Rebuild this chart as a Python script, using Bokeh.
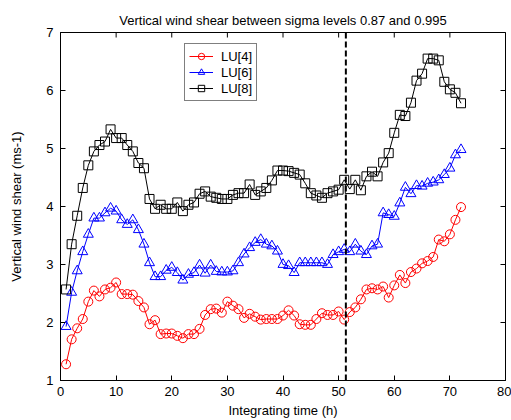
import math
from bokeh.plotting import figure
from bokeh.models import Range1d, Span, Legend, LegendItem, FixedTicker
from bokeh.embed import file_html
from bokeh.resources import INLINE

hours = list(range(1, 73))
lu4 = [1.28, 1.71, 1.90, 2.06, 2.36, 2.55, 2.45, 2.57, 2.60, 2.69,
       2.49, 2.49, 2.48, 2.37, 2.26, 1.97, 2.04, 1.80, 1.81, 1.81,
       1.77, 1.73, 1.80, 1.80, 1.89, 2.13, 2.23, 2.24, 2.17, 2.36,
       2.29, 2.23, 2.08, 2.15, 2.10, 2.05, 2.06, 2.06, 2.06, 2.12,
       2.21, 2.12, 1.97, 1.96, 1.96, 2.06, 2.16, 2.13, 2.13, 2.19,
       2.05, 2.18, 2.26, 2.40, 2.57, 2.59, 2.57, 2.62, 2.43, 2.64,
       2.82, 2.68, 2.87, 2.93, 3.02, 3.06, 3.13, 3.43, 3.40, 3.52,
       3.77, 3.99]
lu6 = [1.93, 2.52, 2.89, 3.22, 3.52, 3.80, 3.80, 3.89, 3.97, 3.92,
       3.77, 3.69, 3.77, 3.60, 3.35, 3.03, 2.79, 2.79, 2.90, 2.95,
       2.86, 2.73, 2.83, 2.86, 2.99, 2.85, 2.99, 2.88, 2.87, 2.87,
       2.89, 3.03, 3.18, 3.29, 3.38, 3.43, 3.35, 3.32, 3.23, 3.00,
       2.98, 2.86, 3.03, 3.03, 3.03, 3.03, 3.03, 3.00, 3.17, 3.22,
       3.26, 3.22, 3.35, 3.23, 3.17, 3.32, 3.35, 3.89, 3.86, 3.83,
       4.06, 4.33, 4.22, 4.36, 4.35, 4.40, 4.42, 4.46, 4.55, 4.66,
       4.89, 4.98]
lu8 = [2.57, 3.35, 3.84, 4.32, 4.71, 4.95, 5.06, 5.12, 5.33, 5.18,
       5.18, 5.06, 4.95, 4.75, 4.66, 4.13, 3.96, 4.03, 3.96, 3.96,
       4.07, 3.92, 4.03, 4.07, 4.22, 4.26, 4.17, 4.15, 4.13, 4.13,
       4.20, 4.23, 4.23, 4.38, 4.20, 4.26, 4.32, 4.45, 4.62, 4.62,
       4.61, 4.58, 4.55, 4.40, 4.23, 4.19, 4.15, 4.23, 4.26, 4.29,
       4.46, 4.30, 4.46, 4.28, 4.52, 4.60, 4.52, 4.76, 4.92, 5.27,
       5.58, 5.56, 5.79, 6.17, 6.29, 6.55, 6.55, 6.52, 6.15, 6.02,
       5.96, 5.78]
series_names = ["LU[4]", "LU[6]", "LU[8]"]
event_time = 51.3
x_ticks = [0, 10, 20, 30, 40, 50, 60, 70, 80]
y_ticks = [1, 2, 3, 4, 5, 6, 7]

FONT = "Liberation Sans"
FS = "13px"

p = figure(width=511, height=420, output_backend="svg", toolbar_location=None,
           x_range=Range1d(x_ticks[0], x_ticks[-1]),
           y_range=Range1d(y_ticks[0], y_ticks[-1]),
           min_border_left=60, min_border_right=6, min_border_top=32,
           min_border_bottom=38)
p.background_fill_color = "white"
p.border_fill_color = "white"
p.outline_line_color = "black"
p.outline_line_width = 1
p.xgrid.visible = False
p.ygrid.visible = False

p.title.text = "Vertical wind shear between sigma levels 0.87 and 0.995"
p.title.align = "center"
p.title.text_font = FONT
p.title.text_font_size = FS
p.title.text_font_style = "normal"
p.title.text_color = "black"
p.title.offset = 0
p.title.standoff = 10


def style_axis(ax):
    ax.major_tick_in = 5
    ax.major_tick_out = 0
    ax.minor_tick_line_color = None
    ax.axis_line_color = "black"
    ax.major_tick_line_color = "black"
    ax.major_label_text_font = FONT
    ax.major_label_text_font_size = FS
    ax.major_label_text_color = "black"
    ax.axis_label_text_font = FONT
    ax.axis_label_text_font_size = FS
    ax.axis_label_text_font_style = "normal"
    ax.axis_label_text_color = "black"


xax = p.xaxis[0]
yax = p.yaxis[0]
xax.ticker = FixedTicker(ticks=x_ticks)
yax.ticker = FixedTicker(ticks=y_ticks)
style_axis(xax)
style_axis(yax)
xax.axis_label = "Integrating time (h)"
yax.axis_label = "Vertical wind shear (ms-1)"
xax.major_label_standoff = 6
xax.axis_label_standoff = 4
yax.major_label_standoff = 7
yax.axis_label_standoff = 19

# inward ticks on the top and right edges of the box (clipped to the frame)
p.scatter(x_ticks, [y_ticks[-1]] * len(x_ticks), marker="dash", angle=math.pi / 2,
          size=10, line_color="black", line_width=1)
p.scatter([x_ticks[-1]] * len(y_ticks), y_ticks, marker="dash",
          size=10, line_color="black", line_width=1)

colors = ["#ff0000", "#0000ff", "#000000"]
markers = ["circle", "triangle", "square"]
sizes = [9, 10, 9]
items = []
for name, ys, c, m, s in zip(series_names, [lu4, lu6, lu8], colors, markers, sizes):
    r1 = p.line(hours, ys, line_color=c, line_width=1)
    r2 = p.scatter(hours, ys, marker=m, size=s, line_color=c, fill_color=None,
                   line_width=1)
    items.append(LegendItem(label=name, renderers=[r1, r2]))

p.add_layout(Span(location=event_time, dimension="height", line_color="black",
                  line_width=2, line_dash="6 3"))

legend = Legend(items=items, location=(124, 279))
legend.border_line_color = "black"
legend.border_line_width = 1
legend.background_fill_color = "white"
legend.background_fill_alpha = 1
legend.label_text_font = FONT
legend.label_text_font_size = FS
legend.label_text_color = "black"
legend.glyph_width = 24
legend.glyph_height = 16
legend.label_height = 16
legend.spacing = 0
legend.padding = 4
legend.margin = 0
legend.label_standoff = 8
p.add_layout(legend, "center")

open("out.html", "w").write(file_html(p, INLINE))
